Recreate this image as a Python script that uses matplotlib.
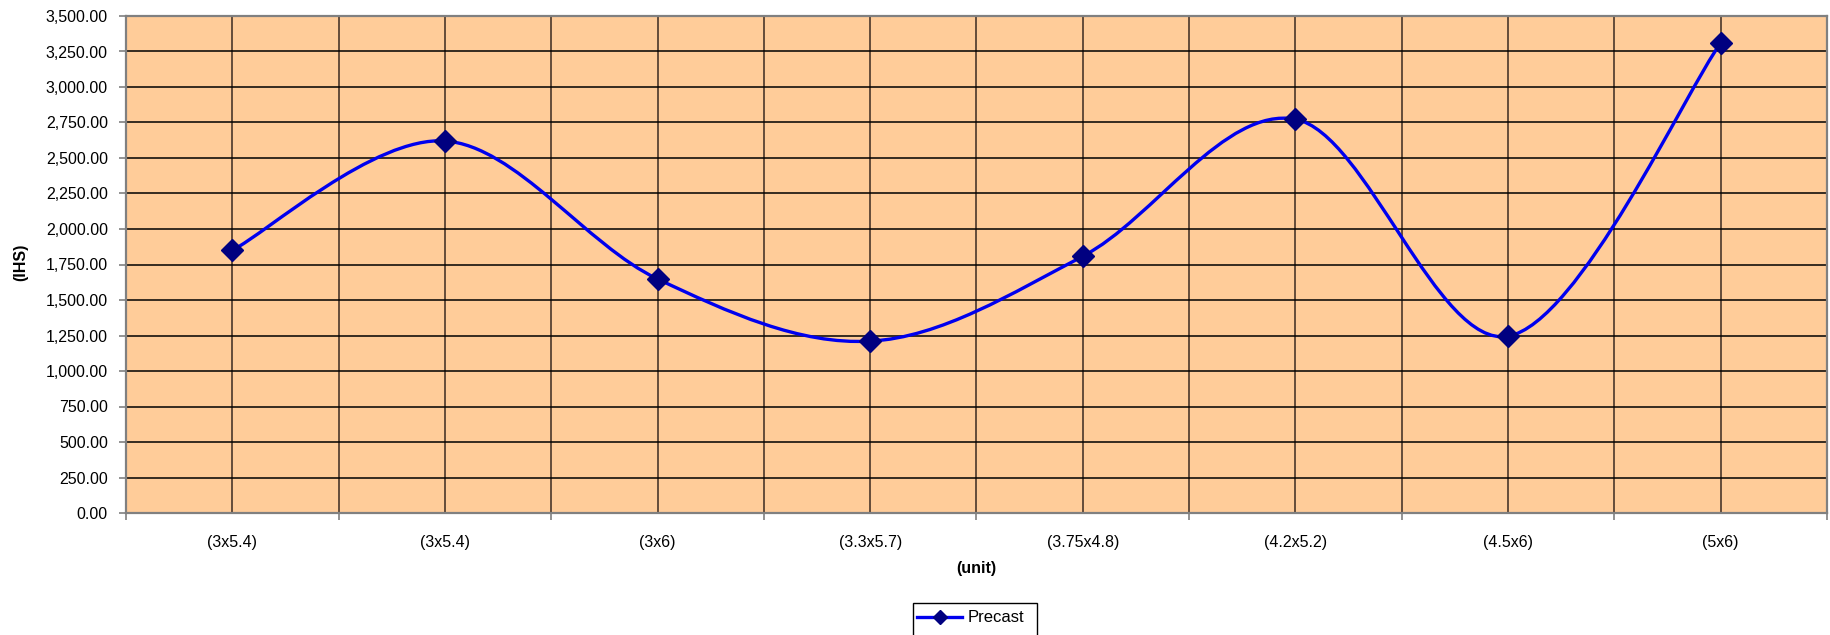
import matplotlib
matplotlib.use("Agg")
import matplotlib.pyplot as plt
from matplotlib.path import Path
from matplotlib.patches import PathPatch, Rectangle
from matplotlib.lines import Line2D
from matplotlib.ticker import FuncFormatter, MultipleLocator

# Data
categories = ["(3x5.4)", "(3x5.4)", "(3x6)", "(3.3x5.7)", "(3.75x4.8)", "(4.2x5.2)", "(4.5x6)", "(5x6)"]
precast = [1850, 2620, 1648, 1210, 1808, 2773, 1245, 3310]
series_name = "Precast"
x_title = "(unit)"
y_title = "(IHS)"

plt.rcParams["font.family"] = ["Liberation Sans", "DejaVu Sans"]

W, H, DPI = 1831, 635, 100
fig = plt.figure(figsize=(W / DPI, H / DPI), dpi=DPI)
ax = fig.add_axes([126 / W, 1 - 513 / H, (1827 - 126) / W, (513 - 16) / H])

bg = "#FFCC99"
line_col = "#0000EE"
mark_col = "#000080"
grid_col = "#000000"
spine_col = "#808080"

ax.set_facecolor(bg)
n = len(categories)
xs = list(range(n))
ax.set_xlim(-0.5, n - 0.5)
ax.set_ylim(0, 3500)

# Smoothed line: cubic Bezier segments through every point (Catmull-Rom style)
pts = list(zip(xs, precast))
verts = [pts[0]]
codes = [Path.MOVETO]
for i in range(n - 1):
    p0 = pts[i - 1] if i > 0 else pts[i]
    p1 = pts[i]
    p2 = pts[i + 1]
    p3 = pts[i + 2] if i + 2 < n else pts[i + 1]
    c1 = (p1[0] + (p2[0] - p0[0]) / 6, p1[1] + (p2[1] - p0[1]) / 6)
    c2 = (p2[0] - (p3[0] - p1[0]) / 6, p2[1] - (p3[1] - p1[1]) / 6)
    verts += [c1, c2, p2]
    codes += [Path.CURVE4] * 3
curve = PathPatch(Path(verts, codes), facecolor="none", edgecolor=line_col,
                  linewidth=2.4, zorder=3, capstyle="round", joinstyle="round")
ax.add_patch(curve)
ax.plot(xs, precast, linestyle="none", marker="D", markersize=11,
        markerfacecolor=mark_col, markeredgecolor=mark_col, zorder=4)

# Axes ticks and grid
ax.yaxis.set_major_locator(MultipleLocator(250))
ax.yaxis.set_major_formatter(FuncFormatter(lambda v, p: f"{v:,.2f}"))
ax.set_xticks([i - 0.5 for i in range(n + 1)])
ax.set_xticklabels([])
ax.set_xticks(xs, minor=True)
ax.set_xticklabels(categories, minor=True)
ax.tick_params(axis="x", which="major", direction="out", length=5, width=1.2, color=spine_col)
ax.tick_params(axis="x", which="minor", length=0, pad=16, labelsize=11.5)
ax.tick_params(axis="y", direction="out", length=5, width=1.2, color=spine_col, pad=8, labelsize=11.5)
ax.grid(True, which="both", axis="x", color="#3a2a20", linewidth=1.1, zorder=1)
ax.grid(True, which="major", axis="y", color=grid_col, linewidth=1.1, zorder=1)
ax.set_axisbelow(True)
for s in ax.spines.values():
    s.set_color(spine_col)
    s.set_linewidth(1.6)

ax.set_xlabel(x_title, fontsize=11.5, fontweight="bold", labelpad=8)
fig.text(21 / W, 1 - 262 / H, y_title, rotation=90, fontsize=11.5, fontweight="bold",
         ha="center", va="center")

# Legend below the plot; its box runs past the lower edge of the figure
box = Rectangle((913 / W, 1 - 645 / H), (1037 - 913) / W, (645 - 603) / H,
                transform=fig.transFigure, facecolor="white", edgecolor="#000000",
                linewidth=1.0, clip_on=False, zorder=5)
fig.add_artist(box)
handle = Line2D([], [], color=line_col, linewidth=2.4, marker="D", markersize=7,
                markerfacecolor=mark_col, markeredgecolor=mark_col)
leg = fig.legend([handle], [series_name], loc="center left",
                 bbox_to_anchor=(914 / W, 1 - 618 / H), borderaxespad=0,
                 frameon=False, fontsize=12, handlelength=2.7,
                 handletextpad=0.3, borderpad=0.2)
leg.set_zorder(6)

fig.savefig("out.png", dpi=DPI, facecolor="white")
